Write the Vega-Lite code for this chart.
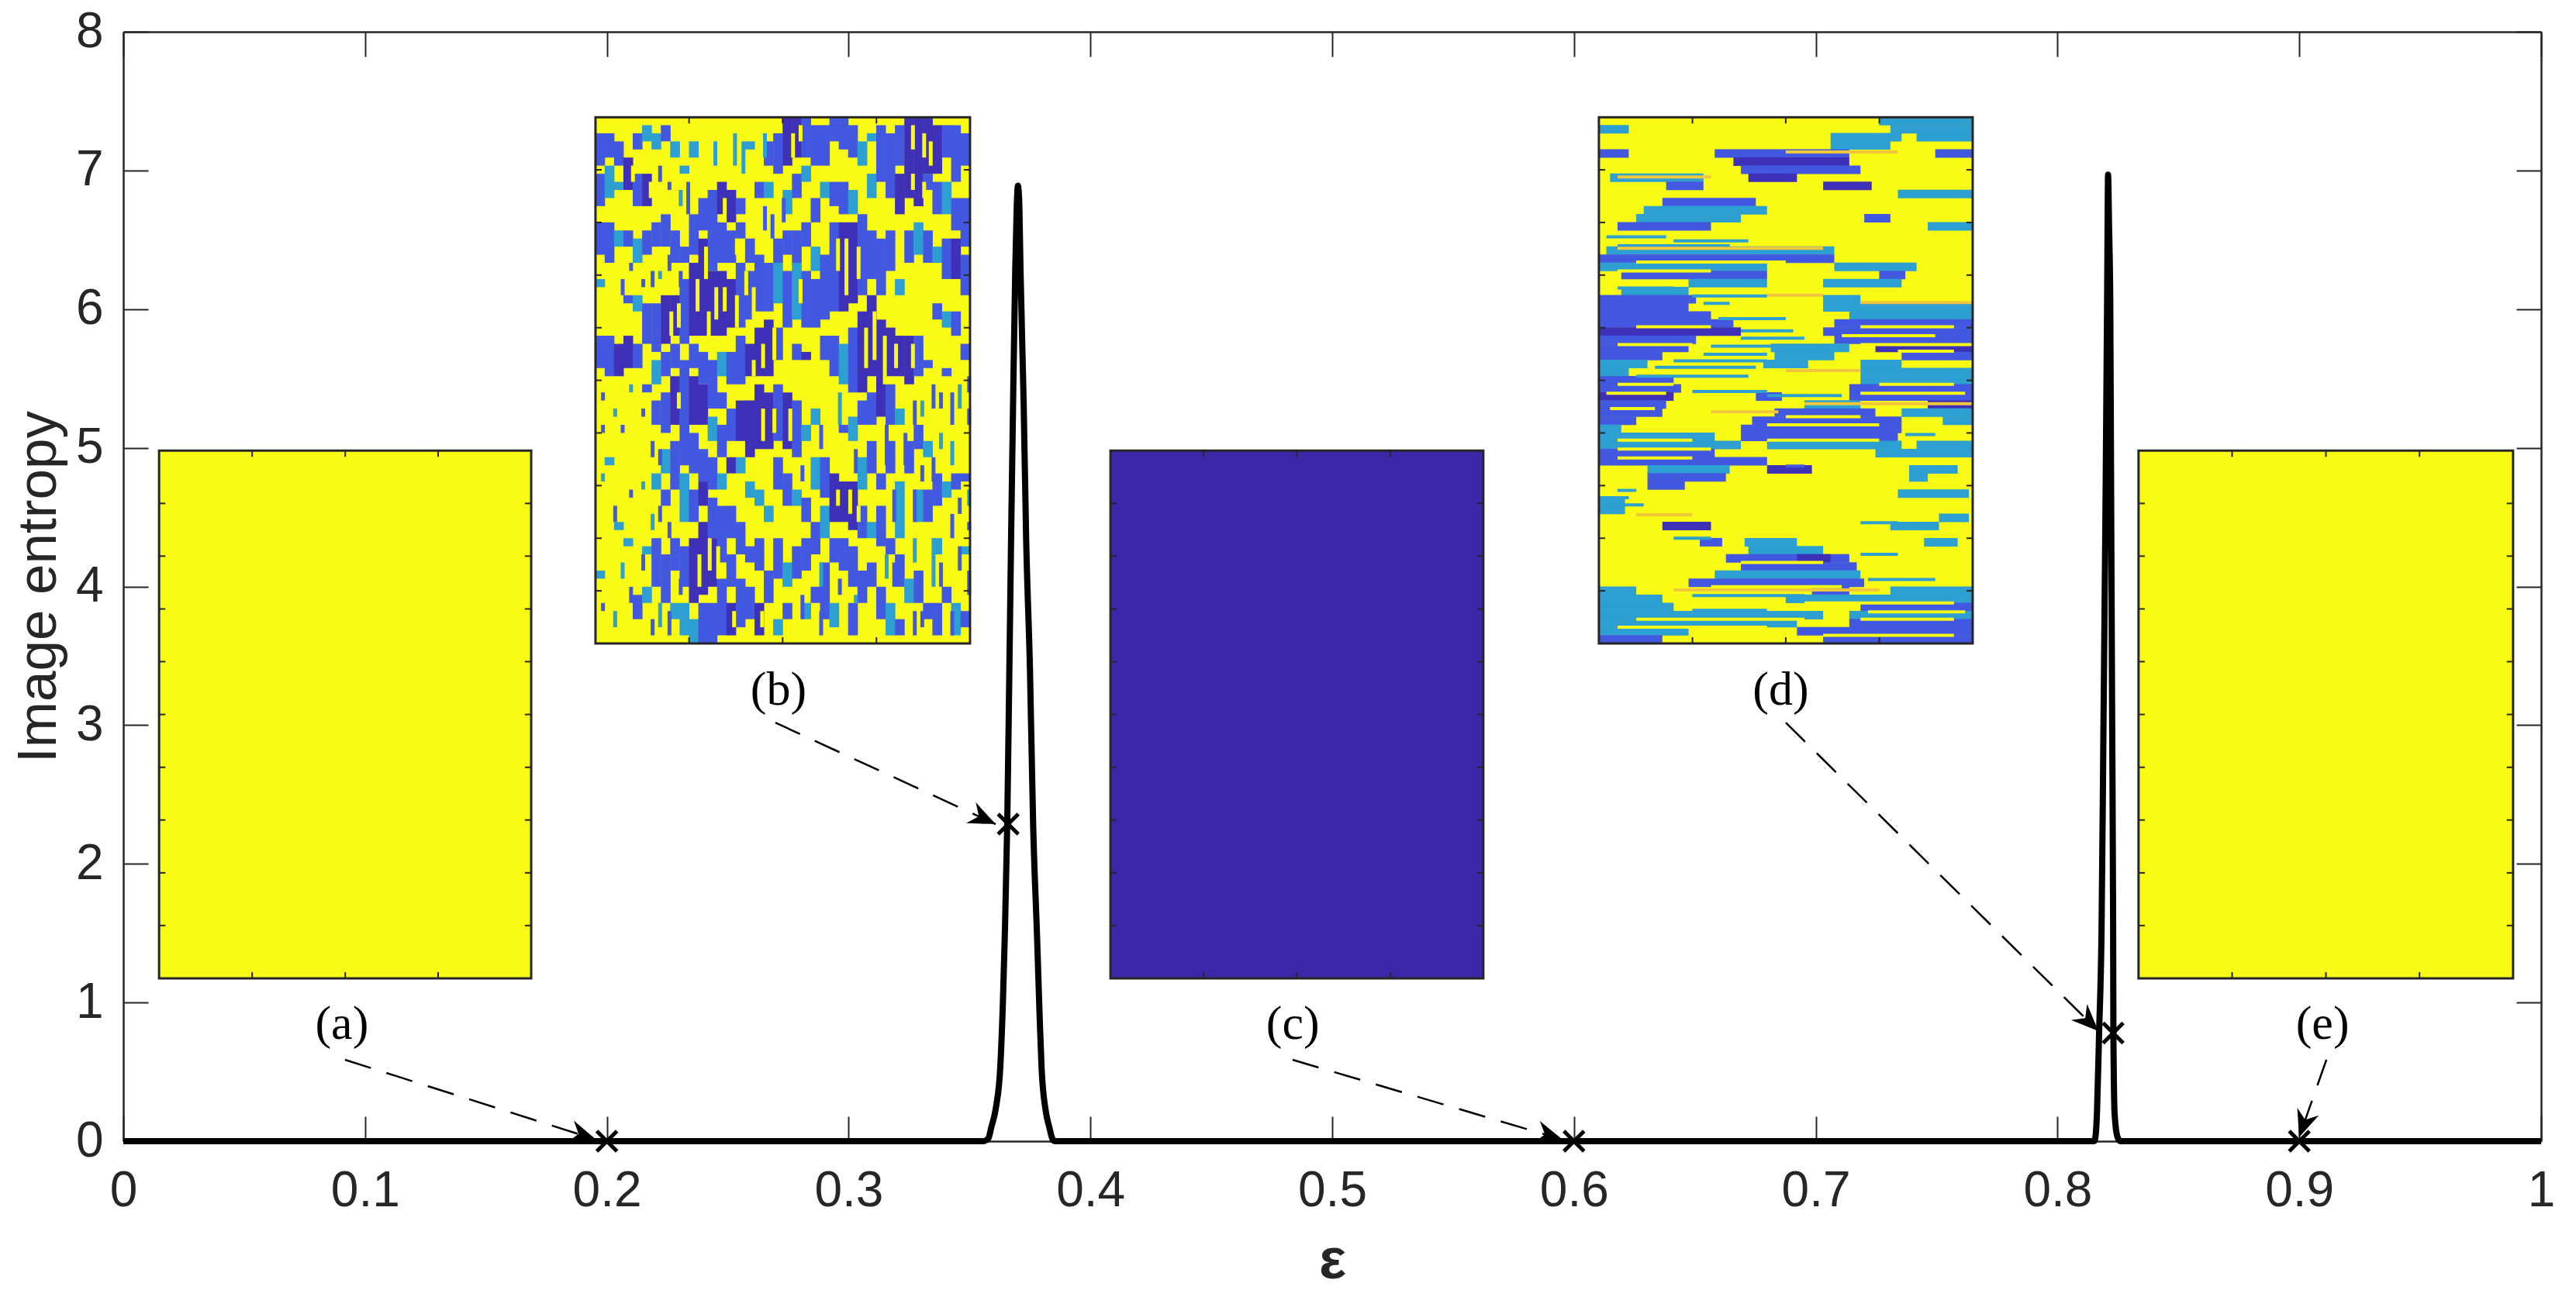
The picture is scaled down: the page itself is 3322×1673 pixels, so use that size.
{"$schema":"https://vega.github.io/schema/vega-lite/v6.json","width":3118,"height":1431,"autosize":"none","padding":{"left":159,"top":41,"right":45,"bottom":201},"background":"white","config":{"view":{"stroke":null}},
"datasets":{
"curve":[{"x":0,"y":0},{"x":0.3558,"y":0},{"x":0.3578,"y":0.02},{"x":0.359,"y":0.1},{"x":0.361,"y":0.25},{"x":0.3627,"y":0.53},{"x":0.3638,"y":1.0},{"x":0.3646,"y":1.49},{"x":0.3656,"y":2.29},{"x":0.3664,"y":3.3},{"x":0.3672,"y":4.36},{"x":0.368,"y":5.31},{"x":0.3689,"y":6.27},{"x":0.3695,"y":6.72},{"x":0.37,"y":6.89},{"x":0.3705,"y":6.8},{"x":0.3711,"y":6.27},{"x":0.3724,"y":5.31},{"x":0.3734,"y":4.36},{"x":0.375,"y":3.4},{"x":0.3763,"y":2.29},{"x":0.3779,"y":1.49},{"x":0.379,"y":0.9},{"x":0.3798,"y":0.53},{"x":0.3815,"y":0.22},{"x":0.383,"y":0.1},{"x":0.3842,"y":0.02},{"x":0.3852,"y":0},{"x":0.8152,"y":0},{"x":0.8158,"y":0.05},{"x":0.8163,"y":0.2},{"x":0.8172,"y":0.79},{"x":0.8182,"y":1.52},{"x":0.819,"y":3},{"x":0.8198,"y":4.5},{"x":0.8205,"y":6.05},{"x":0.8207,"y":6.6},{"x":0.8209,"y":6.97},{"x":0.8213,"y":6.6},{"x":0.8218,"y":6.05},{"x":0.8222,"y":4.5},{"x":0.8226,"y":3},{"x":0.823,"y":1.52},{"x":0.8231,"y":0.79},{"x":0.8236,"y":0.2},{"x":0.8248,"y":0.03},{"x":0.826,"y":0},{"x":1,"y":0}],
"marks":[{"x":0.2,"y":0},{"x":0.366,"y":2.286},{"x":0.6,"y":0},{"x":0.823,"y":0.78},{"x":0.9,"y":0}],
"arrows":[{"x":0.0917,"y":0.587,"x2":0.1956,"y2":0.011,"ang":107.6},{"x":0.2697,"y":3.018,"x2":0.3608,"y2":2.286,"ang":114.8},{"x":0.4836,"y":0.587,"x2":0.5953,"y2":0.011,"ang":106.5},{"x":0.6876,"y":3.018,"x2":0.8169,"y2":0.794,"ang":134.6},{"x":0.9112,"y":0.587,"x2":0.8999,"y2":0.028,"ang":199.3}],
"labels":[{"x":0.0904,"y":0.845,"t":"(a)"},{"x":0.271,"y":3.255,"t":"(b)"},{"x":0.4837,"y":0.845,"t":"(c)"},{"x":0.6855,"y":3.255,"t":"(d)"},{"x":0.9096,"y":0.845,"t":"(e)"}],
"insets":[{"x":0.0148,"x2":0.1687,"y":1.174,"y2":4.98,"k":"a"},{"x":0.1953,"x2":0.3502,"y":3.589,"y2":7.384,"k":"b"},{"x":0.4083,"x2":0.5625,"y":1.174,"y2":4.98,"k":"c"},{"x":0.6103,"x2":0.7649,"y":3.589,"y2":7.384,"k":"d"},{"x":0.8335,"x2":0.9884,"y":1.174,"y2":4.98,"k":"e"}],
"xticks":[{"x":0.0533,"y":1.174,"y2":1.219},{"x":0.0918,"y":1.174,"y2":1.219},{"x":0.1302,"y":1.174,"y2":1.219},{"x":0.0533,"y":4.935,"y2":4.98},{"x":0.0918,"y":4.935,"y2":4.98},{"x":0.1302,"y":4.935,"y2":4.98},{"x":0.234,"y":3.589,"y2":3.634},{"x":0.2727,"y":3.589,"y2":3.634},{"x":0.3115,"y":3.589,"y2":3.634},{"x":0.234,"y":7.339,"y2":7.384},{"x":0.2727,"y":7.339,"y2":7.384},{"x":0.3115,"y":7.339,"y2":7.384},{"x":0.4468,"y":1.174,"y2":1.219},{"x":0.4854,"y":1.174,"y2":1.219},{"x":0.524,"y":1.174,"y2":1.219},{"x":0.4468,"y":4.935,"y2":4.98},{"x":0.4854,"y":4.935,"y2":4.98},{"x":0.524,"y":4.935,"y2":4.98},{"x":0.649,"y":3.589,"y2":3.634},{"x":0.6876,"y":3.589,"y2":3.634},{"x":0.7263,"y":3.589,"y2":3.634},{"x":0.649,"y":7.339,"y2":7.384},{"x":0.6876,"y":7.339,"y2":7.384},{"x":0.7263,"y":7.339,"y2":7.384},{"x":0.8722,"y":1.174,"y2":1.219},{"x":0.911,"y":1.174,"y2":1.219},{"x":0.9497,"y":1.174,"y2":1.219},{"x":0.8722,"y":4.935,"y2":4.98},{"x":0.911,"y":4.935,"y2":4.98},{"x":0.9497,"y":4.935,"y2":4.98}],
"yticks":[{"y":1.555,"x":0.0148,"x2":0.0174},{"y":1.935,"x":0.0148,"x2":0.0174},{"y":2.316,"x":0.0148,"x2":0.0174},{"y":2.696,"x":0.0148,"x2":0.0174},{"y":3.077,"x":0.0148,"x2":0.0174},{"y":3.458,"x":0.0148,"x2":0.0174},{"y":3.838,"x":0.0148,"x2":0.0174},{"y":4.219,"x":0.0148,"x2":0.0174},{"y":4.599,"x":0.0148,"x2":0.0174},{"y":1.555,"x":0.1661,"x2":0.1687},{"y":1.935,"x":0.1661,"x2":0.1687},{"y":2.316,"x":0.1661,"x2":0.1687},{"y":2.696,"x":0.1661,"x2":0.1687},{"y":3.077,"x":0.1661,"x2":0.1687},{"y":3.458,"x":0.1661,"x2":0.1687},{"y":3.838,"x":0.1661,"x2":0.1687},{"y":4.219,"x":0.1661,"x2":0.1687},{"y":4.599,"x":0.1661,"x2":0.1687},
{"y":3.9685,"x":0.1953,"x2":0.1979},{"y":4.348,"x":0.1953,"x2":0.1979},{"y":4.7275,"x":0.1953,"x2":0.1979},{"y":5.107,"x":0.1953,"x2":0.1979},{"y":5.4865,"x":0.1953,"x2":0.1979},{"y":5.866,"x":0.1953,"x2":0.1979},{"y":6.2455,"x":0.1953,"x2":0.1979},{"y":6.625,"x":0.1953,"x2":0.1979},{"y":7.0045,"x":0.1953,"x2":0.1979},{"y":3.9685,"x":0.3476,"x2":0.3502},{"y":4.348,"x":0.3476,"x2":0.3502},{"y":4.7275,"x":0.3476,"x2":0.3502},{"y":5.107,"x":0.3476,"x2":0.3502},{"y":5.4865,"x":0.3476,"x2":0.3502},{"y":5.866,"x":0.3476,"x2":0.3502},{"y":6.2455,"x":0.3476,"x2":0.3502},{"y":6.625,"x":0.3476,"x2":0.3502},{"y":7.0045,"x":0.3476,"x2":0.3502},
{"y":1.555,"x":0.4083,"x2":0.4109},{"y":1.935,"x":0.4083,"x2":0.4109},{"y":2.316,"x":0.4083,"x2":0.4109},{"y":2.696,"x":0.4083,"x2":0.4109},{"y":3.077,"x":0.4083,"x2":0.4109},{"y":3.458,"x":0.4083,"x2":0.4109},{"y":3.838,"x":0.4083,"x2":0.4109},{"y":4.219,"x":0.4083,"x2":0.4109},{"y":4.599,"x":0.4083,"x2":0.4109},{"y":1.555,"x":0.5599,"x2":0.5625},{"y":1.935,"x":0.5599,"x2":0.5625},{"y":2.316,"x":0.5599,"x2":0.5625},{"y":2.696,"x":0.5599,"x2":0.5625},{"y":3.077,"x":0.5599,"x2":0.5625},{"y":3.458,"x":0.5599,"x2":0.5625},{"y":3.838,"x":0.5599,"x2":0.5625},{"y":4.219,"x":0.5599,"x2":0.5625},{"y":4.599,"x":0.5599,"x2":0.5625},
{"y":3.9685,"x":0.6103,"x2":0.6129},{"y":4.348,"x":0.6103,"x2":0.6129},{"y":4.7275,"x":0.6103,"x2":0.6129},{"y":5.107,"x":0.6103,"x2":0.6129},{"y":5.4865,"x":0.6103,"x2":0.6129},{"y":5.866,"x":0.6103,"x2":0.6129},{"y":6.2455,"x":0.6103,"x2":0.6129},{"y":6.625,"x":0.6103,"x2":0.6129},{"y":7.0045,"x":0.6103,"x2":0.6129},{"y":3.9685,"x":0.7623,"x2":0.7649},{"y":4.348,"x":0.7623,"x2":0.7649},{"y":4.7275,"x":0.7623,"x2":0.7649},{"y":5.107,"x":0.7623,"x2":0.7649},{"y":5.4865,"x":0.7623,"x2":0.7649},{"y":5.866,"x":0.7623,"x2":0.7649},{"y":6.2455,"x":0.7623,"x2":0.7649},{"y":6.625,"x":0.7623,"x2":0.7649},{"y":7.0045,"x":0.7623,"x2":0.7649},
{"y":1.555,"x":0.8335,"x2":0.8361},{"y":1.935,"x":0.8335,"x2":0.8361},{"y":2.316,"x":0.8335,"x2":0.8361},{"y":2.696,"x":0.8335,"x2":0.8361},{"y":3.077,"x":0.8335,"x2":0.8361},{"y":3.458,"x":0.8335,"x2":0.8361},{"y":3.838,"x":0.8335,"x2":0.8361},{"y":4.219,"x":0.8335,"x2":0.8361},{"y":4.599,"x":0.8335,"x2":0.8361},{"y":1.555,"x":0.9858,"x2":0.9884},{"y":1.935,"x":0.9858,"x2":0.9884},{"y":2.316,"x":0.9858,"x2":0.9884},{"y":2.696,"x":0.9858,"x2":0.9884},{"y":3.077,"x":0.9858,"x2":0.9884},{"y":3.458,"x":0.9858,"x2":0.9884},{"y":3.838,"x":0.9858,"x2":0.9884},{"y":4.219,"x":0.9858,"x2":0.9884},{"y":4.599,"x":0.9858,"x2":0.9884}],
"heatb":[{"c":0,"a":2,"b":6,"v":1},{"c":0,"a":7,"b":11,"v":1},{"c":0,"a":13,"b":17,"v":1},{"c":0,"a":20,"b":21,"v":2},{"c":0,"a":27,"b":31,"v":1},{"c":0,"a":56,"b":57,"v":2},
{"c":1,"a":2,"b":5,"v":1},{"c":1,"a":6,"b":10,"v":2},{"c":1,"a":13,"b":18,"v":1},{"c":1,"a":27,"b":32,"v":1},{"c":1,"a":42,"b":43,"v":2},
{"c":2,"a":3,"b":6,"v":1},{"c":2,"a":8,"b":9,"v":2},{"c":2,"a":14,"b":16,"v":2},{"c":2,"a":28,"b":32,"v":0},{"c":2,"a":50,"b":51,"v":2},
{"c":3,"a":5,"b":9,"v":0},{"c":3,"a":14,"b":16,"v":1},{"c":3,"a":22,"b":23,"v":1},{"c":3,"a":27,"b":31,"v":0},{"c":3,"a":52,"b":53,"v":2},
{"c":4,"a":2,"b":4,"v":1},{"c":4,"a":7,"b":11,"v":1},{"c":4,"a":15,"b":18,"v":2},{"c":4,"a":22,"b":24,"v":2},{"c":4,"a":28,"b":31,"v":1},{"c":4,"a":59,"b":62,"v":1},
{"c":5,"a":1,"b":3,"v":2},{"c":5,"a":7,"b":11,"v":0},{"c":5,"a":14,"b":17,"v":1},{"c":5,"a":23,"b":28,"v":1},{"c":5,"a":33,"b":34,"v":1},{"c":5,"a":53,"b":54,"v":2},{"c":5,"a":58,"b":60,"v":2},
{"c":6,"a":2,"b":4,"v":2},{"c":6,"a":13,"b":16,"v":1},{"c":6,"a":23,"b":29,"v":1},{"c":6,"a":30,"b":33,"v":2},{"c":6,"a":35,"b":38,"v":1},{"c":6,"a":44,"b":46,"v":2},{"c":6,"a":52,"b":58,"v":1},
{"c":7,"a":1,"b":3,"v":1},{"c":7,"a":12,"b":16,"v":1},{"c":7,"a":22,"b":28,"v":0},{"c":7,"a":29,"b":32,"v":1},{"c":7,"a":34,"b":39,"v":1},{"c":7,"a":41,"b":44,"v":2},{"c":7,"a":46,"b":48,"v":1},{"c":7,"a":54,"b":60,"v":1},
{"c":8,"a":3,"b":5,"v":2},{"c":8,"a":14,"b":18,"v":1},{"c":8,"a":22,"b":27,"v":0},{"c":8,"a":28,"b":31,"v":1},{"c":8,"a":32,"b":38,"v":0},{"c":8,"a":40,"b":46,"v":1},{"c":8,"a":52,"b":56,"v":1},{"c":8,"a":60,"b":62,"v":2},
{"c":9,"a":6,"b":7,"v":2},{"c":9,"a":16,"b":18,"v":1},{"c":9,"a":20,"b":28,"v":1},{"c":9,"a":30,"b":43,"v":1},{"c":9,"a":44,"b":50,"v":2},{"c":9,"a":53,"b":58,"v":1},{"c":9,"a":60,"b":64,"v":2},
{"c":10,"a":3,"b":5,"v":2},{"c":10,"a":12,"b":17,"v":1},{"c":10,"a":18,"b":27,"v":0},{"c":10,"a":28,"b":31,"v":1},{"c":10,"a":32,"b":38,"v":0},{"c":10,"a":39,"b":44,"v":1},{"c":10,"a":46,"b":50,"v":1},{"c":10,"a":52,"b":60,"v":0},{"c":10,"a":62,"b":65,"v":2},
{"c":11,"a":10,"b":14,"v":1},{"c":11,"a":15,"b":27,"v":0},{"c":11,"a":29,"b":33,"v":1},{"c":11,"a":33,"b":38,"v":0},{"c":11,"a":41,"b":45,"v":1},{"c":11,"a":45,"b":48,"v":0},{"c":11,"a":50,"b":59,"v":0},{"c":11,"a":60,"b":65,"v":1},
{"c":12,"a":9,"b":19,"v":1},{"c":12,"a":19,"b":27,"v":0},{"c":12,"a":30,"b":36,"v":1},{"c":12,"a":37,"b":40,"v":2},{"c":12,"a":42,"b":46,"v":1},{"c":12,"a":47,"b":52,"v":1},{"c":12,"a":52,"b":58,"v":0},{"c":12,"a":60,"b":65,"v":1},
{"c":13,"a":8,"b":12,"v":0},{"c":13,"a":13,"b":18,"v":1},{"c":13,"a":19,"b":27,"v":0},{"c":13,"a":29,"b":32,"v":2},{"c":13,"a":34,"b":36,"v":1},{"c":13,"a":38,"b":42,"v":1},{"c":13,"a":44,"b":46,"v":2},{"c":13,"a":48,"b":55,"v":1},{"c":13,"a":57,"b":64,"v":1},
{"c":14,"a":9,"b":13,"v":0},{"c":14,"a":14,"b":18,"v":1},{"c":14,"a":20,"b":26,"v":0},{"c":14,"a":29,"b":33,"v":1},{"c":14,"a":36,"b":40,"v":1},{"c":14,"a":42,"b":44,"v":0},{"c":14,"a":48,"b":52,"v":1},{"c":14,"a":54,"b":58,"v":1},{"c":14,"a":60,"b":64,"v":0},
{"c":15,"a":10,"b":12,"v":1},{"c":15,"a":13,"b":15,"v":1},{"c":15,"a":18,"b":26,"v":1},{"c":15,"a":27,"b":33,"v":1},{"c":15,"a":35,"b":40,"v":0},{"c":15,"a":42,"b":44,"v":2},{"c":15,"a":50,"b":54,"v":1},{"c":15,"a":57,"b":63,"v":1},
{"c":16,"a":3,"b":4,"v":2},{"c":16,"a":15,"b":18,"v":1},{"c":16,"a":19,"b":25,"v":1},{"c":16,"a":28,"b":32,"v":0},{"c":16,"a":35,"b":42,"v":0},{"c":16,"a":45,"b":47,"v":2},{"c":16,"a":53,"b":55,"v":1},{"c":16,"a":58,"b":62,"v":1},
{"c":17,"a":8,"b":10,"v":1},{"c":17,"a":17,"b":24,"v":1},{"c":17,"a":26,"b":32,"v":0},{"c":17,"a":33,"b":41,"v":0},{"c":17,"a":46,"b":48,"v":2},{"c":17,"a":52,"b":56,"v":1},{"c":17,"a":60,"b":64,"v":0},
{"c":18,"a":3,"b":6,"v":1},{"c":18,"a":8,"b":10,"v":2},{"c":18,"a":18,"b":24,"v":1},{"c":18,"a":25,"b":32,"v":0},{"c":18,"a":34,"b":41,"v":0},{"c":18,"a":48,"b":50,"v":2},{"c":18,"a":56,"b":60,"v":1},
{"c":19,"a":2,"b":7,"v":1},{"c":19,"a":15,"b":18,"v":1},{"c":19,"a":18,"b":23,"v":2},{"c":19,"a":26,"b":30,"v":1},{"c":19,"a":33,"b":40,"v":1},{"c":19,"a":42,"b":46,"v":1},{"c":19,"a":52,"b":57,"v":1},{"c":19,"a":62,"b":64,"v":2},
{"c":20,"a":0,"b":6,"v":0},{"c":20,"a":9,"b":12,"v":2},{"c":20,"a":14,"b":17,"v":1},{"c":20,"a":19,"b":26,"v":1},{"c":20,"a":34,"b":41,"v":0},{"c":20,"a":44,"b":48,"v":1},{"c":20,"a":55,"b":58,"v":2},{"c":20,"a":60,"b":62,"v":1},
{"c":21,"a":0,"b":5,"v":0},{"c":21,"a":7,"b":10,"v":1},{"c":21,"a":14,"b":18,"v":1},{"c":21,"a":18,"b":25,"v":2},{"c":21,"a":28,"b":30,"v":1},{"c":21,"a":35,"b":42,"v":1},{"c":21,"a":46,"b":48,"v":2},{"c":21,"a":53,"b":57,"v":1},
{"c":22,"a":0,"b":5,"v":1},{"c":22,"a":6,"b":8,"v":2},{"c":22,"a":13,"b":16,"v":1},{"c":22,"a":19,"b":26,"v":1},{"c":22,"a":29,"b":30,"v":0},{"c":22,"a":38,"b":40,"v":2},{"c":22,"a":47,"b":50,"v":1},{"c":22,"a":52,"b":56,"v":1},{"c":22,"a":60,"b":62,"v":2},
{"c":23,"a":1,"b":6,"v":1},{"c":23,"a":10,"b":13,"v":1},{"c":23,"a":16,"b":19,"v":2},{"c":23,"a":20,"b":26,"v":1},{"c":23,"a":36,"b":38,"v":2},{"c":23,"a":42,"b":46,"v":2},{"c":23,"a":50,"b":54,"v":1},{"c":23,"a":58,"b":60,"v":1},
{"c":24,"a":1,"b":6,"v":1},{"c":24,"a":8,"b":10,"v":2},{"c":24,"a":17,"b":25,"v":1},{"c":24,"a":27,"b":30,"v":1},{"c":24,"a":42,"b":47,"v":1},{"c":24,"a":48,"b":52,"v":2},{"c":24,"a":55,"b":62,"v":1},
{"c":25,"a":0,"b":3,"v":1},{"c":25,"a":8,"b":11,"v":1},{"c":25,"a":13,"b":24,"v":1},{"c":25,"a":27,"b":32,"v":1},{"c":25,"a":44,"b":50,"v":0},{"c":25,"a":52,"b":55,"v":1},{"c":25,"a":60,"b":63,"v":2},
{"c":26,"a":0,"b":4,"v":1},{"c":26,"a":8,"b":12,"v":1},{"c":26,"a":13,"b":24,"v":0},{"c":26,"a":28,"b":33,"v":2},{"c":26,"a":38,"b":39,"v":1},{"c":26,"a":45,"b":50,"v":0},{"c":26,"a":52,"b":56,"v":1},
{"c":27,"a":1,"b":5,"v":1},{"c":27,"a":9,"b":12,"v":2},{"c":27,"a":13,"b":23,"v":0},{"c":27,"a":26,"b":34,"v":1},{"c":27,"a":37,"b":40,"v":2},{"c":27,"a":45,"b":51,"v":0},{"c":27,"a":53,"b":58,"v":1},{"c":27,"a":60,"b":64,"v":1},
{"c":28,"a":3,"b":6,"v":2},{"c":28,"a":12,"b":22,"v":1},{"c":28,"a":24,"b":34,"v":0},{"c":28,"a":35,"b":38,"v":1},{"c":28,"a":42,"b":46,"v":2},{"c":28,"a":48,"b":52,"v":1},{"c":28,"a":56,"b":60,"v":1},
{"c":29,"a":2,"b":3,"v":2},{"c":29,"a":7,"b":10,"v":2},{"c":29,"a":14,"b":20,"v":1},{"c":29,"a":22,"b":32,"v":0},{"c":29,"a":34,"b":38,"v":1},{"c":29,"a":40,"b":44,"v":1},{"c":29,"a":50,"b":52,"v":2},{"c":29,"a":55,"b":58,"v":1},
{"c":30,"a":1,"b":8,"v":1},{"c":30,"a":15,"b":22,"v":1},{"c":30,"a":25,"b":37,"v":0},{"c":30,"a":44,"b":46,"v":1},{"c":30,"a":48,"b":53,"v":1},{"c":30,"a":58,"b":62,"v":1},
{"c":31,"a":2,"b":10,"v":1},{"c":31,"a":14,"b":19,"v":1},{"c":31,"a":26,"b":32,"v":0},{"c":31,"a":33,"b":38,"v":1},{"c":31,"a":40,"b":44,"v":1},{"c":31,"a":52,"b":54,"v":1},{"c":31,"a":60,"b":64,"v":2},
{"c":32,"a":1,"b":6,"v":1},{"c":32,"a":7,"b":12,"v":0},{"c":32,"a":20,"b":22,"v":2},{"c":32,"a":27,"b":32,"v":0},{"c":32,"a":36,"b":38,"v":2},{"c":32,"a":45,"b":52,"v":2},{"c":32,"a":54,"b":58,"v":1},{"c":32,"a":62,"b":64,"v":1},
{"c":33,"a":0,"b":10,"v":0},{"c":33,"a":14,"b":18,"v":1},{"c":33,"a":27,"b":33,"v":0},{"c":33,"a":40,"b":44,"v":1},{"c":33,"a":57,"b":60,"v":2},
{"c":34,"a":0,"b":11,"v":0},{"c":34,"a":13,"b":17,"v":2},{"c":34,"a":27,"b":32,"v":1},{"c":34,"a":38,"b":41,"v":1},{"c":34,"a":46,"b":50,"v":2},{"c":34,"a":56,"b":60,"v":1},
{"c":35,"a":0,"b":7,"v":0},{"c":35,"a":7,"b":9,"v":1},{"c":35,"a":14,"b":18,"v":1},{"c":35,"a":30,"b":31,"v":1},{"c":35,"a":40,"b":42,"v":2},{"c":35,"a":46,"b":50,"v":1},{"c":35,"a":60,"b":62,"v":1},
{"c":36,"a":1,"b":7,"v":0},{"c":36,"a":8,"b":12,"v":1},{"c":36,"a":16,"b":18,"v":2},{"c":36,"a":23,"b":25,"v":1},{"c":36,"a":44,"b":48,"v":1},{"c":36,"a":52,"b":54,"v":2},{"c":36,"a":60,"b":64,"v":1},
{"c":37,"a":1,"b":5,"v":1},{"c":37,"a":8,"b":12,"v":2},{"c":37,"a":15,"b":20,"v":1},{"c":37,"a":24,"b":26,"v":2},{"c":37,"a":31,"b":32,"v":1},{"c":37,"a":45,"b":47,"v":2},{"c":37,"a":58,"b":60,"v":1},
{"c":38,"a":1,"b":8,"v":1},{"c":38,"a":10,"b":14,"v":1},{"c":38,"a":15,"b":20,"v":0},{"c":38,"a":24,"b":27,"v":1},{"c":38,"a":44,"b":46,"v":1},{"c":38,"a":60,"b":64,"v":2},
{"c":39,"a":2,"b":6,"v":1},{"c":39,"a":10,"b":16,"v":1},{"c":39,"a":17,"b":22,"v":1},{"c":39,"a":28,"b":30,"v":1},{"c":39,"a":44,"b":45,"v":1},{"c":39,"a":53,"b":54,"v":2},{"c":39,"a":61,"b":63,"v":1}],
"speckb":[{"c":10.4,"a":20,"b":24,"v":3},{"c":11.3,"a":16,"b":20,"v":3},{"c":11.6,"a":24,"b":27,"v":3},{"c":12.4,"a":21,"b":25,"v":3},{"c":13.3,"a":10,"b":13,"v":3},{"c":13.3,"a":21,"b":24,"v":3},{"c":14.6,"a":22,"b":26,"v":3},{"c":14.6,"a":15,"b":17,"v":3},{"c":15.6,"a":19,"b":22,"v":3},{"c":16.4,"a":21,"b":25,"v":3},{"c":16.4,"a":30,"b":32,"v":3},{"c":17.4,"a":28,"b":31,"v":3},{"c":17.4,"a":36,"b":40,"v":3},{"c":18.6,"a":26,"b":30,"v":3},{"c":18.6,"a":36,"b":39,"v":3},{"c":20.3,"a":36,"b":40,"v":3},{"c":20.6,"a":2,"b":5,"v":3},{"c":21.4,"a":1,"b":3,"v":3},{"c":21.4,"a":20,"b":23,"v":3},{"c":25.4,"a":15,"b":19,"v":3},{"c":25.4,"a":46,"b":48,"v":3},{"c":26.3,"a":15,"b":22,"v":3},{"c":26.7,"a":46,"b":49,"v":3},{"c":27.6,"a":16,"b":20,"v":3},{"c":27.6,"a":48,"b":50,"v":3},{"c":28.4,"a":26,"b":31,"v":3},{"c":29.3,"a":24,"b":30,"v":3},{"c":30.4,"a":27,"b":33,"v":3},{"c":31.6,"a":28,"b":31,"v":3},{"c":33.4,"a":1,"b":4,"v":3},{"c":33.4,"a":7,"b":9,"v":3},{"c":33.4,"a":28,"b":31,"v":3},{"c":34.6,"a":2,"b":5,"v":3},{"c":34.6,"a":8,"b":10,"v":3},{"c":35.3,"a":3,"b":6,"v":3},{"c":8.4,"a":23,"b":26,"v":3},{"c":8.4,"a":34,"b":36,"v":3},{"c":7.6,"a":24,"b":27,"v":3},{"c":3.5,"a":6,"b":8,"v":3},{"c":5.4,"a":8,"b":10,"v":3},{"c":11.7,"a":52,"b":56,"v":3},{"c":10.6,"a":54,"b":58,"v":3},{"c":12.6,"a":53,"b":57,"v":3},{"c":14.3,"a":61,"b":63,"v":3},{"c":17.3,"a":61,"b":63,"v":3},
{"c":0.3,"a":34,"b":35,"v":1},{"c":0.3,"a":38,"b":39,"v":1},{"c":0.3,"a":44,"b":45,"v":2},{"c":0.3,"a":60,"b":61,"v":1},{"c":1.6,"a":36,"b":37,"v":2},{"c":1.6,"a":48,"b":50,"v":1},{"c":1.6,"a":61,"b":63,"v":2},{"c":2.4,"a":20,"b":22,"v":1},{"c":2.4,"a":38,"b":39,"v":1},{"c":2.4,"a":55,"b":57,"v":2},{"c":3.3,"a":18,"b":19,"v":1},{"c":3.3,"a":33,"b":34,"v":2},{"c":3.3,"a":46,"b":47,"v":1},{"c":3.3,"a":58,"b":60,"v":1},{"c":4.6,"a":20,"b":21,"v":1},{"c":4.6,"a":36,"b":37,"v":1},{"c":4.6,"a":45,"b":46,"v":2},{"c":4.6,"a":54,"b":56,"v":1},{"c":5.6,"a":19,"b":21,"v":1},{"c":5.6,"a":40,"b":42,"v":1},{"c":5.6,"a":49,"b":51,"v":2},{"c":5.6,"a":62,"b":64,"v":1},{"c":6.4,"a":6,"b":8,"v":1},{"c":6.4,"a":19,"b":20,"v":2},{"c":6.4,"a":41,"b":43,"v":1},{"c":6.4,"a":48,"b":50,"v":1},{"c":6.4,"a":60,"b":63,"v":2},{"c":7.4,"a":8,"b":9,"v":1},{"c":7.4,"a":17,"b":19,"v":1},{"c":7.4,"a":50,"b":52,"v":1},{"c":7.4,"a":61,"b":64,"v":1},{"c":8.6,"a":9,"b":11,"v":2},{"c":8.6,"a":19,"b":21,"v":1},{"c":8.6,"a":57,"b":59,"v":1},{"c":9.4,"a":8,"b":12,"v":1},{"c":12.3,"a":3,"b":6,"v":2},{"c":14.4,"a":2,"b":6,"v":2},{"c":15.3,"a":3,"b":7,"v":2},{"c":17.6,"a":2,"b":5,"v":2},{"c":17.6,"a":11,"b":14,"v":1},{"c":18.4,"a":12,"b":15,"v":1},{"c":19.6,"a":10,"b":13,"v":1},{"c":21.6,"a":43,"b":45,"v":1},{"c":21.6,"a":59,"b":62,"v":1},{"c":23.6,"a":38,"b":41,"v":1},{"c":23.6,"a":55,"b":58,"v":2},{"c":23.6,"a":61,"b":64,"v":1},{"c":25.6,"a":34,"b":38,"v":2},{"c":25.6,"a":57,"b":59,"v":1},{"c":27.3,"a":41,"b":44,"v":1},{"c":27.3,"a":59,"b":60,"v":2},{"c":30.6,"a":38,"b":43,"v":1},{"c":30.6,"a":54,"b":57,"v":2},{"c":31.4,"a":46,"b":50,"v":1},{"c":31.4,"a":55,"b":58,"v":1},{"c":32.6,"a":39,"b":43,"v":1},{"c":33.6,"a":35,"b":38,"v":1},{"c":33.6,"a":46,"b":50,"v":1},{"c":33.6,"a":52,"b":55,"v":2},{"c":33.6,"a":61,"b":64,"v":1},{"c":34.4,"a":35,"b":37,"v":2},{"c":34.4,"a":43,"b":45,"v":1},{"c":34.4,"a":61,"b":63,"v":1},{"c":35.6,"a":33,"b":36,"v":1},{"c":35.6,"a":42,"b":45,"v":1},{"c":35.6,"a":52,"b":58,"v":2},{"c":36.4,"a":34,"b":36,"v":1},{"c":36.4,"a":39,"b":41,"v":2},{"c":36.4,"a":55,"b":58,"v":1},{"c":37.6,"a":34,"b":38,"v":1},{"c":37.6,"a":40,"b":43,"v":2},{"c":37.6,"a":49,"b":52,"v":1},{"c":37.6,"a":61,"b":64,"v":1},{"c":38.4,"a":33,"b":36,"v":2},{"c":38.4,"a":47,"b":49,"v":1},{"c":38.4,"a":53,"b":56,"v":1},{"c":39.4,"a":32,"b":34,"v":1},{"c":39.4,"a":36,"b":38,"v":1},{"c":39.4,"a":46,"b":48,"v":2},{"c":39.4,"a":50,"b":51,"v":1},{"c":39.4,"a":56,"b":59,"v":1}],
"heatd":[{"r":0,"a":75,"b":100,"v":2},{"r":1,"a":78,"b":100,"v":2},{"r":1,"a":0,"b":8,"v":2},{"r":2,"a":62,"b":81,"v":2},{"r":2,"a":85,"b":100,"v":2},{"r":3,"a":62,"b":78,"v":2},{"r":4,"a":31,"b":67,"v":1},{"r":4,"a":0,"b":8,"v":1},{"r":4,"a":90,"b":100,"v":1},{"r":5,"a":36,"b":67,"v":0},{"r":6,"a":38,"b":70,"v":1},{"r":7,"a":3,"b":28,"v":2},{"r":7,"a":40,"b":53,"v":0},{"r":8,"a":18,"b":28,"v":1},{"r":8,"a":60,"b":73,"v":0},{"r":9,"a":80,"b":100,"v":2},{"r":10,"a":17,"b":42,"v":1},{"r":11,"a":12,"b":45,"v":2},{"r":12,"a":10,"b":38,"v":2},{"r":12,"a":71,"b":78,"v":1},{"r":13,"a":5,"b":30,"v":1},{"r":13,"a":88,"b":100,"v":2},{"r":16,"a":2,"b":63,"v":2},{"r":17,"a":0,"b":63,"v":1},{"r":18,"a":0,"b":45,"v":2},{"r":18,"a":63,"b":85,"v":2},{"r":19,"a":6,"b":45,"v":1},{"r":19,"a":75,"b":82,"v":1},{"r":20,"a":60,"b":81,"v":2},{"r":20,"a":24,"b":45,"v":2},{"r":21,"a":6,"b":24,"v":2},{"r":22,"a":0,"b":26,"v":1},{"r":22,"a":60,"b":70,"v":2},{"r":23,"a":0,"b":24,"v":1},{"r":23,"a":60,"b":100,"v":2},{"r":24,"a":0,"b":30,"v":1},{"r":24,"a":67,"b":100,"v":2},{"r":25,"a":0,"b":36,"v":1},{"r":25,"a":63,"b":100,"v":1},{"r":26,"a":0,"b":38,"v":0},{"r":26,"a":60,"b":100,"v":1},{"r":27,"a":0,"b":26,"v":1},{"r":27,"a":63,"b":100,"v":1},{"r":28,"a":0,"b":24,"v":1},{"r":28,"a":46,"b":67,"v":2},{"r":28,"a":74,"b":100,"v":0},{"r":29,"a":0,"b":17,"v":1},{"r":29,"a":47,"b":63,"v":2},{"r":29,"a":81,"b":100,"v":1},{"r":30,"a":0,"b":13,"v":2},{"r":30,"a":44,"b":56,"v":2},{"r":30,"a":70,"b":81,"v":2},{"r":31,"a":0,"b":8,"v":2},{"r":31,"a":70,"b":100,"v":2},{"r":32,"a":0,"b":20,"v":1},{"r":32,"a":70,"b":100,"v":2},{"r":33,"a":0,"b":22,"v":1},{"r":33,"a":67,"b":100,"v":1},{"r":34,"a":0,"b":20,"v":0},{"r":34,"a":67,"b":100,"v":1},{"r":34,"a":42,"b":49,"v":1},{"r":35,"a":0,"b":18,"v":1},{"r":35,"a":55,"b":70,"v":2},{"r":35,"a":88,"b":100,"v":0},{"r":36,"a":0,"b":17,"v":1},{"r":36,"a":47,"b":74,"v":1},{"r":36,"a":81,"b":100,"v":2},{"r":37,"a":0,"b":10,"v":1},{"r":37,"a":41,"b":81,"v":1},{"r":37,"a":92,"b":100,"v":2},{"r":38,"a":0,"b":6,"v":2},{"r":38,"a":38,"b":81,"v":1},{"r":39,"a":0,"b":31,"v":2},{"r":39,"a":38,"b":80,"v":1},{"r":40,"a":0,"b":38,"v":2},{"r":40,"a":45,"b":81,"v":2},{"r":40,"a":85,"b":100,"v":2},{"r":41,"a":0,"b":31,"v":1},{"r":41,"a":74,"b":100,"v":2},{"r":42,"a":0,"b":45,"v":1},{"r":43,"a":13,"b":35,"v":2},{"r":43,"a":45,"b":57,"v":0},{"r":43,"a":83,"b":96,"v":2},{"r":44,"a":13,"b":34,"v":1},{"r":44,"a":83,"b":88,"v":2},{"r":45,"a":13,"b":23,"v":1},{"r":46,"a":80,"b":99,"v":2},{"r":47,"a":0,"b":7,"v":2},{"r":48,"a":0,"b":7,"v":2},{"r":49,"a":91,"b":99,"v":2},{"r":50,"a":17,"b":30,"v":0},{"r":50,"a":78,"b":91,"v":2},{"r":52,"a":27,"b":33,"v":1},{"r":52,"a":39,"b":53,"v":2},{"r":52,"a":87,"b":96,"v":2},{"r":53,"a":40,"b":60,"v":2},{"r":54,"a":34,"b":67,"v":1},{"r":54,"a":53,"b":62,"v":0},{"r":55,"a":38,"b":69,"v":1},{"r":56,"a":31,"b":70,"v":2},{"r":57,"a":24,"b":71,"v":1},{"r":58,"a":0,"b":10,"v":2},{"r":58,"a":57,"b":67,"v":1},{"r":58,"a":78,"b":100,"v":2},{"r":59,"a":0,"b":17,"v":2},{"r":59,"a":50,"b":100,"v":2},{"r":60,"a":0,"b":20,"v":2},{"r":60,"a":70,"b":100,"v":1},{"r":61,"a":0,"b":60,"v":2},{"r":61,"a":67,"b":100,"v":2},{"r":62,"a":0,"b":53,"v":2},{"r":62,"a":67,"b":100,"v":1},{"r":63,"a":0,"b":24,"v":2},{"r":63,"a":53,"b":100,"v":1},{"r":64,"a":0,"b":17,"v":1},{"r":64,"a":60,"b":100,"v":1}],
"speckd":[{"r":17.4,"a":10,"b":50,"v":3},{"r":18.5,"a":5,"b":30,"v":3},{"r":25.4,"a":10,"b":30,"v":3},{"r":25.4,"a":70,"b":95,"v":3},{"r":26.5,"a":65,"b":90,"v":3},{"r":27.6,"a":5,"b":25,"v":3},{"r":27.6,"a":70,"b":100,"v":3},{"r":28.4,"a":80,"b":95,"v":3},{"r":32.5,"a":5,"b":20,"v":3},{"r":32.5,"a":75,"b":95,"v":3},{"r":33.6,"a":2,"b":18,"v":3},{"r":33.6,"a":70,"b":98,"v":3},{"r":35.5,"a":3,"b":15,"v":3},{"r":36.5,"a":50,"b":70,"v":3},{"r":37.5,"a":45,"b":75,"v":3},{"r":39.4,"a":5,"b":25,"v":3},{"r":39.4,"a":45,"b":75,"v":3},{"r":40.5,"a":5,"b":30,"v":3},{"r":41.6,"a":5,"b":25,"v":3},{"r":54.5,"a":38,"b":60,"v":3},{"r":57.5,"a":30,"b":65,"v":3},{"r":59.5,"a":55,"b":95,"v":3},{"r":60.6,"a":72,"b":98,"v":3},{"r":61.5,"a":10,"b":55,"v":3},{"r":61.5,"a":70,"b":95,"v":3},{"r":62.5,"a":5,"b":45,"v":3},{"r":63.5,"a":60,"b":95,"v":3},
{"r":14.3,"a":2,"b":18,"v":2},{"r":14.8,"a":20,"b":40,"v":2},{"r":15.4,"a":5,"b":35,"v":2},{"r":15.8,"a":45,"b":62,"v":2},{"r":20.6,"a":5,"b":20,"v":2},{"r":21.6,"a":25,"b":45,"v":2},{"r":22.5,"a":28,"b":35,"v":2},{"r":24.4,"a":32,"b":50,"v":2},{"r":25.9,"a":38,"b":52,"v":2},{"r":26.8,"a":38,"b":55,"v":2},{"r":27.8,"a":30,"b":60,"v":2},{"r":28.8,"a":28,"b":45,"v":2},{"r":29.6,"a":20,"b":45,"v":2},{"r":30.4,"a":15,"b":42,"v":2},{"r":31.5,"a":10,"b":40,"v":2},{"r":33.4,"a":25,"b":45,"v":2},{"r":33.9,"a":45,"b":65,"v":2},{"r":38.7,"a":82,"b":90,"v":2},{"r":42.6,"a":50,"b":55,"v":1},{"r":45.6,"a":5,"b":10,"v":2},{"r":46.5,"a":0,"b":8,"v":2},{"r":47.4,"a":2,"b":12,"v":2},{"r":49.6,"a":70,"b":80,"v":2},{"r":51.5,"a":20,"b":30,"v":2},{"r":53.5,"a":70,"b":80,"v":2},{"r":56.6,"a":72,"b":90,"v":2},{"r":58.6,"a":25,"b":55,"v":2},{"r":60.4,"a":25,"b":45,"v":2},
{"r":3.8,"a":50,"b":80,"v":4},{"r":15.7,"a":5,"b":60,"v":4},{"r":21.5,"a":45,"b":60,"v":4},{"r":30.8,"a":50,"b":70,"v":4},{"r":35.9,"a":30,"b":48,"v":4},{"r":48.6,"a":10,"b":25,"v":4},{"r":22.4,"a":70,"b":100,"v":4},{"r":34.9,"a":55,"b":100,"v":4},{"r":57.9,"a":20,"b":75,"v":4},{"r":6.9,"a":5,"b":30,"v":4}]
},
"resolve":{"scale":{"x":"independent","y":"independent"}},
"layer":[
{"encoding":{"x":{"field":"x","type":"quantitative","scale":{"domain":[0,1],"nice":false,"zero":false},"axis":{"orient":"bottom","values":[0,0.1,0.2,0.3,0.4,0.5,0.6,0.7,0.8,0.9,1],"format":"~g","grid":false,"title":"ε","titleFont":"Liberation Sans","titleFontWeight":"bold","titleFontSize":74,"titleColor":"#262626","titlePadding":22,"labelFont":"Liberation Sans","labelFontSize":64,"labelColor":"#262626","labelPadding":64,"labelFlush":false,"labelOverlap":false,"tickSize":-32,"tickWidth":2,"tickColor":"#262626","domainColor":"#262626","domainWidth":2.5}},"y":{"field":"y","type":"quantitative","scale":{"domain":[0,8],"nice":false,"zero":false},"axis":{"orient":"left","values":[0,1,2,3,4,5,6,7,8],"grid":false,"title":"Image entropy","titleFont":"Liberation Sans","titleFontWeight":"normal","titleFontSize":71,"titleColor":"#262626","titlePadding":11,"labelFont":"Liberation Sans","labelFontSize":64,"labelColor":"#262626","labelPadding":58,"labelOverlap":false,"tickSize":-32,"tickWidth":2,"tickColor":"#262626","domainColor":"#262626","domainWidth":2.5}}},
"layer":[
{"data":{"name":"insets"},"transform":[{"filter":"datum.k!='c'"}],"mark":{"type":"rect","fill":"#F9FB15"},"encoding":{"x2":{"field":"x2"},"y2":{"field":"y2"}}},
{"data":{"name":"insets"},"transform":[{"filter":"datum.k=='c'"}],"mark":{"type":"rect","fill":"#3E26A8"},"encoding":{"x2":{"field":"x2"},"y2":{"field":"y2"}}}
]},
{"encoding":{"x":{"field":"c","type":"quantitative","axis":null,"scale":{"domain":[-50.93,207.28],"nice":false,"zero":false}},"y":{"field":"a","type":"quantitative","axis":null,"scale":{"domain":[126.46,-10.53],"nice":false,"zero":false}},"y2":{"field":"b"},"color":{"field":"v","type":"ordinal","legend":null,"scale":{"domain":[0,1,2,3,4],"range":["#3F30B8","#4358E0","#2D9FD0","#F9FB15","#F2C63A"]}}},
"layer":[{"data":{"name":"heatb"},"mark":{"type":"rule","strokeWidth":12.6}},{"data":{"name":"speckb"},"mark":{"type":"rule","strokeWidth":5}}]},
{"encoding":{"x":{"field":"a","type":"quantitative","axis":null,"scale":{"domain":[-394.8,252.1],"nice":false,"zero":false}},"x2":{"field":"b"},"y":{"field":"r","type":"quantitative","axis":null,"scale":{"domain":[125.96,-11.03],"nice":false,"zero":false}},"color":{"field":"v","type":"ordinal","legend":null,"scale":{"domain":[0,1,2,3,4],"range":["#3F30B8","#4358E0","#2D9FD0","#F9FB15","#F2C63A"]}}},
"layer":[{"data":{"name":"heatd"},"mark":{"type":"rule","strokeWidth":11}},{"data":{"name":"speckd"},"mark":{"type":"rule","strokeWidth":4}}]},
{"encoding":{"x":{"field":"x","type":"quantitative","scale":{"domain":[0,1],"nice":false,"zero":false},"axis":{"orient":"top","values":[0,0.1,0.2,0.3,0.4,0.5,0.6,0.7,0.8,0.9,1],"labels":false,"title":null,"grid":false,"tickSize":-32,"tickWidth":2,"tickColor":"#262626","domainColor":"#262626","domainWidth":2.5}},"y":{"field":"y","type":"quantitative","scale":{"domain":[0,8],"nice":false,"zero":false},"axis":{"orient":"right","values":[0,1,2,3,4,5,6,7,8],"labels":false,"title":null,"grid":false,"tickSize":-32,"tickWidth":2,"tickColor":"#262626","domainColor":"#262626","domainWidth":2.5}}},
"layer":[
{"data":{"name":"insets"},"mark":{"type":"rect","fill":null,"stroke":"#262626","strokeWidth":3},"encoding":{"x2":{"field":"x2"},"y2":{"field":"y2"}}},
{"data":{"name":"xticks"},"mark":{"type":"rule","stroke":"#262626","strokeWidth":2},"encoding":{"y2":{"field":"y2"}}},
{"data":{"name":"yticks"},"mark":{"type":"rule","stroke":"#262626","strokeWidth":2},"encoding":{"x2":{"field":"x2"}}},
{"data":{"name":"curve"},"mark":{"type":"line","stroke":"black","strokeWidth":8,"strokeJoin":"round","interpolate":"monotone"}},
{"data":{"name":"arrows"},"mark":{"type":"rule","stroke":"black","strokeWidth":2.5,"strokeDash":[35,21]},"encoding":{"x2":{"field":"x2"},"y2":{"field":"y2"}}},
{"data":{"name":"arrows"},"mark":{"type":"point","shape":"M0,0L-0.42,1L0,0.68L0.42,1Z","filled":true,"fill":"black","opacity":1,"size":4900},"encoding":{"x":{"field":"x2","type":"quantitative"},"y":{"field":"y2","type":"quantitative"},"angle":{"field":"ang","type":"quantitative","scale":null}}},
{"data":{"name":"marks"},"mark":{"type":"point","shape":"M-1,-1L1,1M-1,1L1,-1","filled":false,"stroke":"black","opacity":1,"strokeWidth":5,"size":676}},
{"data":{"name":"labels"},"mark":{"type":"text","font":"Liberation Serif","fontSize":62,"color":"black","align":"center","baseline":"middle"},"encoding":{"text":{"field":"t"}}}
]}
]}
